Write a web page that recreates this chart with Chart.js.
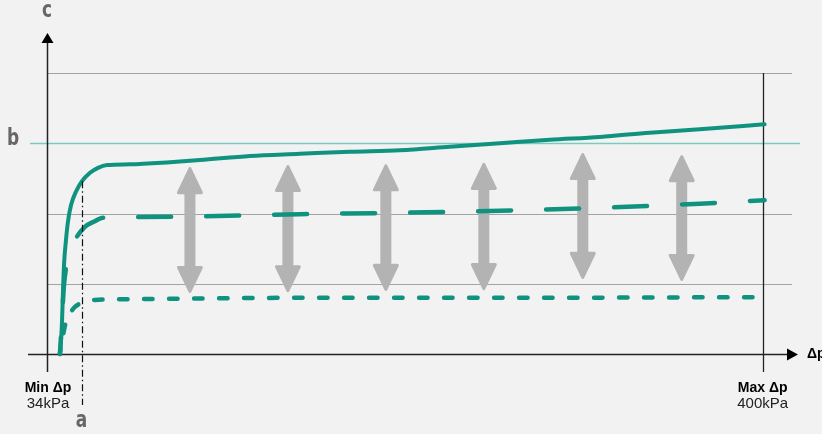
<!DOCTYPE html>
<html>
<head>
<meta charset="utf-8">
<script src="https://cdn.jsdelivr.net/npm/chart.js@4/dist/chart.umd.min.js"></script>
<style>
    html, body { margin: 0; padding: 0; background: #f2f2f2; }
    canvas { display: block; }
</style>
</head>
<body>
<canvas id="dpChart" width="822" height="434"></canvas>
<script>
// --- Data (x = differential pressure in kPa, y = output level, b = 3) ---
var solidX = [40.6, 41.2, 41.7, 42.2, 42.7, 43.7, 44.7, 46.3, 48.8, 51.9, 56.0, 60.1, 64.7, 76.4, 96.9, 112.2, 137.8, 163.3, 188.9, 214.5, 240.0, 265.6, 291.1, 316.7, 342.3, 367.8, 401.0];
var solidY = [0.00, 0.20, 0.48, 0.91, 1.27, 1.62, 1.88, 2.12, 2.31, 2.46, 2.58, 2.65, 2.69, 2.70, 2.73, 2.76, 2.82, 2.85, 2.88, 2.90, 2.95, 3.00, 3.05, 3.09, 3.15, 3.20, 3.27];

var dashedX = [40.6, 41.2, 41.7, 42.2, 42.7, 43.7, 45.2, 47.3, 48.8, 53.4, 58.5, 62.6, 76.4, 112.2, 163.3, 214.5, 265.6, 316.7, 367.8, 401.0];
var dashedY = [0.00, 0.27, 0.56, 0.77, 0.98, 1.22, 1.44, 1.57, 1.65, 1.81, 1.89, 1.94, 1.95, 1.96, 1.99, 2.01, 2.04, 2.08, 2.14, 2.19];

var dottedX = [40.6, 41.2, 42.2, 43.7, 45.8, 48.3, 51.9, 58.5, 76.4, 163.3, 265.6, 401.0];
var dottedY = [0.00, 0.13, 0.27, 0.46, 0.58, 0.67, 0.73, 0.77, 0.78, 0.80, 0.80, 0.81];

// grey double arrows: position and extent
var arrowX = [107.1, 157.2, 207.3, 257.4, 308.0, 358.6];
var arrowTop = [2.66, 2.69, 2.70, 2.72, 2.86, 2.83];
var arrowBottom = [0.87, 0.88, 0.90, 0.91, 1.07, 1.04];

var gridLevels = [1, 2, 4];
var refLevel = 3;           // line "b"
var minDp = 34;
var maxDp = 400;
var markA = 52;             // dash-dot marker "a"
var xMax = 415;
var yMax = 4;

var teal = '#0f937f';

function toPoints(xs, ys) {
    return xs.map(function(x, i) { return { x: x, y: ys[i] }; });
}

function drawArrow(ctx, x, yTop, yBot) {
    var headW = 11.5, headH = 24, shaftW = 4;
    yTop += 1.5;
    yBot -= 1.5;
    ctx.beginPath();
    ctx.moveTo(x, yTop);
    ctx.lineTo(x + headW, yTop + headH);
    ctx.lineTo(x + shaftW, yTop + headH);
    ctx.lineTo(x + shaftW, yBot - headH);
    ctx.lineTo(x + headW, yBot - headH);
    ctx.lineTo(x, yBot);
    ctx.lineTo(x - headW, yBot - headH);
    ctx.lineTo(x - shaftW, yBot - headH);
    ctx.lineTo(x - shaftW, yTop + headH);
    ctx.lineTo(x - headW, yTop + headH);
    ctx.closePath();
    ctx.fillStyle = '#b3b3b3';
    ctx.strokeStyle = '#b3b3b3';
    ctx.lineWidth = 3;
    ctx.lineJoin = 'round';
    ctx.fill();
    ctx.stroke();
}

function hLine(ctx, x1, x2, y, color, width) {
    ctx.beginPath();
    ctx.moveTo(x1, y);
    ctx.lineTo(x2, y);
    ctx.strokeStyle = color;
    ctx.lineWidth = width;
    ctx.stroke();
}

function vLine(ctx, x, y1, y2, color, width) {
    ctx.beginPath();
    ctx.moveTo(x, y1);
    ctx.lineTo(x, y2);
    ctx.strokeStyle = color;
    ctx.lineWidth = width;
    ctx.stroke();
}

// condensed bold letter (squeezed horizontally)
function letter(ctx, text, x, y) {
    ctx.save();
    ctx.translate(x, y);
    ctx.scale(0.82, 1);
    ctx.fillText(text, 0, 0);
    ctx.restore();
}

// --- Background grid, axes and arrows ---
var backdropPlugin = {
    id: 'backdrop',
    beforeDatasetsDraw: function(chart) {
        var ctx = chart.ctx;
        var xs = chart.scales.x, ys = chart.scales.y;
        var left = xs.getPixelForValue(minDp);
        var right = xs.getPixelForValue(xMax);
        var bottom = ys.getPixelForValue(0);
        var top = ys.getPixelForValue(yMax);
        ctx.save();

        gridLevels.forEach(function(v) {
            hLine(ctx, left, right, Math.round(ys.getPixelForValue(v)) + 0.5, '#a3a3a3', 1.2);
        });
        hLine(ctx, left - 17, right + 8, Math.round(ys.getPixelForValue(refLevel)) + 0.5, '#7ccabe', 1.5);

        arrowX.forEach(function(v, i) {
            drawArrow(ctx, xs.getPixelForValue(v), ys.getPixelForValue(arrowTop[i]), ys.getPixelForValue(arrowBottom[i]));
        });

        // max dp line
        var xMaxDp = Math.round(xs.getPixelForValue(maxDp)) + 0.5;
        vLine(ctx, xMaxDp, top, bottom + 18, '#222', 1.3);

        // y axis with arrow
        var ax = Math.round(left) + 0.5;
        vLine(ctx, ax, bottom + 18, top - 30, '#222', 1.5);
        ctx.beginPath();
        ctx.moveTo(ax, top - 40);
        ctx.lineTo(ax + 6, top - 30);
        ctx.lineTo(ax - 6, top - 30);
        ctx.closePath();
        ctx.fillStyle = '#000';
        ctx.fill();

        // x axis with arrow
        var ay = Math.round(bottom) + 0.5;
        hLine(ctx, left - 19, right, ay, '#222', 1.5);
        ctx.beginPath();
        ctx.moveTo(right + 6, ay);
        ctx.lineTo(right - 5, ay - 6);
        ctx.lineTo(right - 5, ay + 6);
        ctx.closePath();
        ctx.fillStyle = '#000';
        ctx.fill();

        ctx.restore();
    },
    afterDatasetsDraw: function(chart) {
        var ctx = chart.ctx;
        var xs = chart.scales.x, ys = chart.scales.y;
        var bottom = ys.getPixelForValue(0);
        var xa = Math.round(xs.getPixelForValue(markA)) + 0.5;
        ctx.save();
        ctx.setLineDash([7, 3, 1.5, 3]);
        vLine(ctx, xa, ys.getPixelForValue(2.46), bottom + 51, '#111', 1.2);
        ctx.setLineDash([]);

        // letters
        ctx.fillStyle = '#676767';
        ctx.font = 'bold 23px "DejaVu Sans Condensed", "Liberation Sans Narrow", sans-serif';
        ctx.textAlign = 'center';
        ctx.textBaseline = 'middle';
        letter(ctx, 'c', xs.getPixelForValue(minDp), 11);
        letter(ctx, 'b', 13, ys.getPixelForValue(refLevel) - 4);
        letter(ctx, 'a', xa - 1, bottom + 67);

        // axis labels
        ctx.fillStyle = '#000';
        ctx.font = 'bold 14px "Liberation Sans", Arial, sans-serif';
        ctx.fillText('Min Δp', xs.getPixelForValue(minDp) + 1, bottom + 34);
        ctx.fillText('Max Δp', xs.getPixelForValue(maxDp), bottom + 34);
        ctx.textAlign = 'left';
        ctx.fillText('Δp', xs.getPixelForValue(xMax) + 15, bottom + 0);
        ctx.textAlign = 'center';
        ctx.font = '15px "Liberation Sans", Arial, sans-serif';
        ctx.fillStyle = '#222';
        ctx.fillText('34kPa', xs.getPixelForValue(minDp) + 1, bottom + 50);
        ctx.fillText('400kPa', xs.getPixelForValue(maxDp), bottom + 50);
        ctx.restore();
    }
};

var ctx = document.getElementById('dpChart').getContext('2d');
var chart = new Chart(ctx, {
    type: 'line',
    data: {
        datasets: [
            {
                label: 'Solid',
                data: toPoints(solidX, solidY),
                borderColor: teal,
                borderWidth: 4,
                cubicInterpolationMode: 'monotone',
                borderCapStyle: 'round',
                borderJoinStyle: 'round',
                pointRadius: 0,
                clip: false
            },
            {
                label: 'Dashed',
                data: toPoints(dashedX, dashedY),
                borderColor: teal,
                borderWidth: 4.5,
                borderDash: [33, 35],
                borderDashOffset: 16,
                cubicInterpolationMode: 'monotone',
                borderCapStyle: 'round',
                borderJoinStyle: 'round',
                pointRadius: 0,
                clip: false
            },
            {
                label: 'Dotted',
                data: toPoints(dottedX, dottedY),
                borderColor: teal,
                borderWidth: 4.5,
                borderDash: [8.5, 16.5],
                borderDashOffset: 4,
                cubicInterpolationMode: 'monotone',
                borderCapStyle: 'round',
                borderJoinStyle: 'round',
                pointRadius: 0,
                clip: false
            }
        ]
    },
    options: {
        responsive: false,
        animation: false,
        devicePixelRatio: 1,
        layout: { padding: { left: 47, right: 30, top: 73, bottom: 80 } },
        plugins: {
            legend: { display: false },
            tooltip: { enabled: false }
        },
        scales: {
            x: { type: 'linear', min: minDp, max: xMax, display: false },
            y: { type: 'linear', min: 0, max: yMax, display: false }
        }
    },
    plugins: [backdropPlugin]
});
</script>
</body>
</html>
